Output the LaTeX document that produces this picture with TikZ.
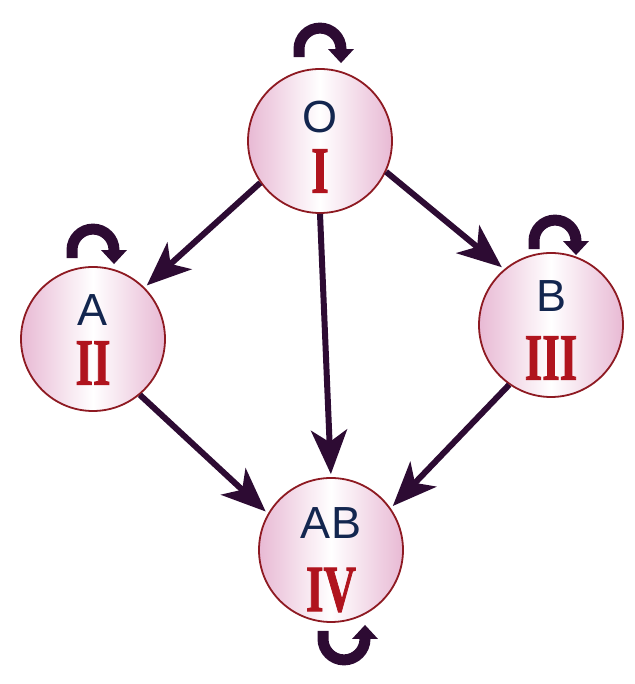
\documentclass[tikz,border=0pt]{standalone}
\usepackage{fontspec}
\setmainfont{Liberation Sans}
\newfontfamily\numfont[FakeBold=1.6]{Liberation Serif Bold}
\usetikzlibrary{arrows.meta}
\definecolor{arrowpurple}{HTML}{2D0B33}
\definecolor{ringred}{HTML}{8E1A22}
\definecolor{cellpink}{HTML}{E8B9D4}
\definecolor{letterblue}{HTML}{13264F}
\definecolor{numeralred}{HTML}{B0141E}
\tikzset{
  group/.style={circle, minimum size=144pt, inner sep=0pt, draw=ringred,
    line width=1.8pt, left color=cellpink, right color=cellpink, middle color=white},
  letter/.style={text=letterblue, font=\fontsize{45}{45}\selectfont, inner sep=0pt},
  numeral/.style={text=numeralred, font=\numfont\fontsize{66}{66}\selectfont,
    inner sep=0pt, xscale=0.68},
  transfer/.style={-{Stealth[length=44pt,width=36pt,inset=12pt]}, draw=arrowpurple,
    line width=6pt, shorten >=3pt},
  selfloop/.pic={
    \draw[arrowpurple, line width=11pt, -{Triangle[length=14pt,width=25pt]}]
      (-21,-8) -- (-21,0) arc[start angle=180,end angle=0,radius=21] -- (21,-14);
  }
}

\begin{document}
\begin{tikzpicture}[x=1pt,y=1pt]
    \fill[white] (0,0) rectangle (634,684);
    \useasboundingbox (0,0) rectangle (634,684);
    % the four groups
    \node[group] (O)  at (320,543) {};
    \node[group] (A)  at (93,345)  {};
    \node[group] (B)  at (551,359) {};
    \node[group] (AB) at (331,134) {};
    \node[letter]  (O-letter)  at ([yshift=24pt]O.center)  {O};
    \node[numeral] (O-num)     at ([yshift=-30pt]O.center) {I};
    \node[letter]  (A-letter)  at ([yshift=29pt]A.center)  {A};
    \node[numeral] (A-num)     at ([yshift=-24pt]A.center) {II};
    \node[letter]  (B-letter)  at ([yshift=29pt]B.center)  {B};
    \node[numeral] (B-num)     at ([yshift=-33pt]B.center) {III};
    \node[letter]  (AB-letter) at ([yshift=27pt]AB.center) {AB};
    \node[numeral] (AB-num)    at ([yshift=-40pt]AB.center) {IV};
    % transfers
    \draw[transfer] (O.215) -- (A.45);
    \draw[transfer] (O.-25) -- (B.130);
    \draw[transfer] (O.-90) -- (AB.90);
    \draw[transfer] (A.-50) -- (AB.150);
    \draw[transfer] (B.-125) -- (AB.35);
    % self loops
    \pic at ([yshift=19pt]O.north) {selfloop};
    \pic at ([yshift=16pt]A.north) {selfloop};
    \pic at ([xshift=4pt,yshift=11pt]B.north) {selfloop};
    \pic[yscale=-1] at ([xshift=13pt,yshift=-16pt]AB.south) {selfloop};
\end{tikzpicture}
\end{document}
